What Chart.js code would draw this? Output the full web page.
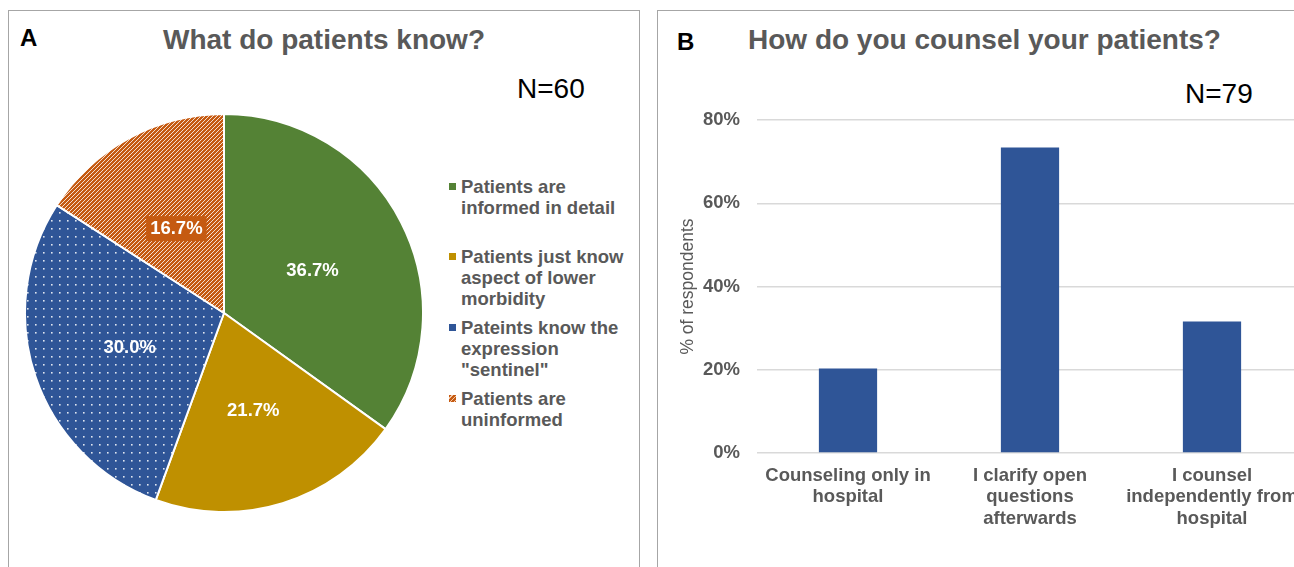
<!DOCTYPE html>
<html>
<head>
<meta charset="utf-8">
<script src="https://cdn.jsdelivr.net/npm/chart.js@4.4.1/dist/chart.umd.min.js"></script>
<style>
  html, body { margin: 0; padding: 0; background: #fff; overflow: hidden; width: 1294px; height: 567px; }
  body { position: relative; font-family: "Liberation Sans", Arial, sans-serif; }
  .panel { position: absolute; border: 1px solid #a6a6a6; background: #fff; box-sizing: border-box; }
  .txt { position: absolute; white-space: nowrap; line-height: 1; }
  .letter { font-weight: bold; font-size: 24px; color: #000; }
  .title { font-weight: bold; font-size: 28px; color: #595959; }
  .n { font-size: 28px; color: #000; }
  #legend { position: absolute; left: 447px; top: 0; }
  .item { position: absolute; left: 0; width: 190px; font-weight: bold; font-size: 18.5px; line-height: 21px; color: #595959; }
  .item .mk { position: absolute; left: 2px; top: 7px; width: 7px; height: 7px; }
  .item .lb { position: absolute; left: 14px; top: 0; white-space: nowrap; }
</style>
</head>
<body>
<div class="panel" style="left:8px; top:10px; width:632px; height:570px;"></div>
<div class="panel" style="left:657px; top:10px; width:700px; height:570px;"></div>

<div class="txt letter" style="left:20px; top:26px;">A</div>
<div class="txt title" style="left:163px; top:26px;">What do patients know?</div>
<div class="txt n" style="left:517px; top:75px;">N=60</div>

<div class="txt letter" style="left:677px; top:30px;">B</div>
<div class="txt title" style="left:748px; top:26px;">How do you counsel your patients?</div>
<div class="txt n" style="left:1185px; top:80px;">N=79</div>

<div id="legend"></div>

<canvas id="pieChart" width="400" height="400" style="position:absolute; left:24px; top:113px; width:400px; height:400px;"></canvas>
<canvas id="barChart" width="670" height="556" style="position:absolute; left:658px; top:11px; width:670px; height:556px;"></canvas>

<script>
// Panel A data
const pieLabels = [
  ['Patients are', 'informed in detail'],
  ['Patients just know', 'aspect of lower', 'morbidity'],
  ['Pateints know the', 'expression', '"sentinel"'],
  ['Patients are', 'uninformed']
];
const pieValues = [36.7, 21.7, 30.0, 16.7];

// Panel B data
const barCategories = [
  ['Counseling only in', 'hospital'],
  ['I clarify open', 'questions', 'afterwards'],
  ['I counsel', 'independently from', 'hospital']
];
const barValues = [20.3, 73.4, 31.6];
const yTicks = [0, 20, 40, 60, 80];

const green = '#548235';
const gold = '#BF9000';
const blue = '#2F5597';
const orange = '#C55A11';

function dotPattern(bg) {
  const c = document.createElement('canvas');
  c.width = 8; c.height = 8;
  const g = c.getContext('2d');
  g.fillStyle = bg; g.fillRect(0, 0, 8, 8);
  g.fillStyle = 'rgba(255,255,255,0.85)';
  g.fillRect(3, 3, 1.6, 1.6);
  return g.createPattern(c, 'repeat');
}

function stripePattern(bg) {
  const c = document.createElement('canvas');
  c.width = 4; c.height = 4;
  const g = c.getContext('2d');
  g.fillStyle = bg; g.fillRect(0, 0, 4, 4);
  g.strokeStyle = 'rgba(255,255,255,0.8)';
  g.lineWidth = 1;
  g.beginPath();
  g.moveTo(-1, 5); g.lineTo(5, -1);
  g.moveTo(-1, 1); g.lineTo(1, -1);
  g.moveTo(3, 5); g.lineTo(5, 3);
  g.stroke();
  return g.createPattern(c, 'repeat');
}

const pieFills = [green, gold, dotPattern(blue), stripePattern(orange)];
const legendMarks = [green, gold, blue, 'repeating-linear-gradient(135deg,' + orange + ' 0 2px,#f3c6a5 2px 3px)'];
const legendTops = [176, 246, 317, 388];

// legend (html)
const legend = document.getElementById('legend');
pieLabels.forEach((lines, i) => {
  const item = document.createElement('div');
  item.className = 'item';
  item.style.top = legendTops[i] + 'px';
  const mk = document.createElement('div');
  mk.className = 'mk';
  mk.style.background = legendMarks[i];
  const lb = document.createElement('div');
  lb.className = 'lb';
  lb.innerHTML = lines.map(s => s.replace(/&/g, '&amp;').replace(/</g, '&lt;')).join('<br>');
  item.appendChild(mk);
  item.appendChild(lb);
  legend.appendChild(item);
});

// labels inside the slices
const sliceLabels = {
  id: 'sliceLabels',
  afterDatasetsDraw(chart) {
    const ctx = chart.ctx;
    const meta = chart.getDatasetMeta(0);
    ctx.save();
    ctx.font = 'bold 18.5px "Liberation Sans", Arial, sans-serif';
    ctx.textAlign = 'center';
    ctx.textBaseline = 'middle';
    meta.data.forEach((arc, i) => {
      const p = arc.tooltipPosition();
      const x = p.x;
      const y = p.y + 3;
      const text = pieValues[i].toFixed(1) + '%';
      if (i === 3) {
        const w = ctx.measureText(text).width;
        ctx.fillStyle = orange;
        ctx.fillRect(x - w / 2 - 4, y - 12.5, w + 8, 25);
      }
      ctx.fillStyle = '#fff';
      ctx.fillText(text, x, y);
    });
    ctx.restore();
  }
};

new Chart(document.getElementById('pieChart'), {
  type: 'pie',
  data: {
    labels: pieLabels.map(l => l.join(' ')),
    datasets: [{
      data: pieValues,
      backgroundColor: pieFills,
      borderColor: '#fff',
      borderWidth: 2
    }]
  },
  options: {
    responsive: false,
    animation: false,
    layout: { padding: 0 },
    plugins: { legend: { display: false }, tooltip: { enabled: false } }
  },
  plugins: [sliceLabels]
});

new Chart(document.getElementById('barChart'), {
  type: 'bar',
  data: {
    labels: barCategories,
    datasets: [{
      data: barValues,
      backgroundColor: blue,
      categoryPercentage: 1,
      barPercentage: 0.32
    }]
  },
  options: {
    responsive: false,
    animation: false,
    layout: { padding: { top: 109, right: 25, bottom: 0, left: 0 } },
    plugins: { legend: { display: false }, tooltip: { enabled: false } },
    scales: {
      x: {
        grid: { display: false },
        border: { display: false },
        ticks: {
          color: '#595959',
          font: { family: '"Liberation Sans", Arial, sans-serif', size: 18.5, weight: 'bold', lineHeight: 1.16 },
          padding: 4,
          maxRotation: 0,
          autoSkip: false
        },
        afterFit(scale) { scale.height = 114; }
      },
      y: {
        min: 0,
        max: 80,
        afterBuildTicks(scale) { scale.ticks = yTicks.map(v => ({ value: v })); },
        grid: { color: '#d9d9d9', lineWidth: 1.5, drawTicks: false },
        border: { display: false },
        ticks: {
          color: '#595959',
          font: { family: '"Liberation Sans", Arial, sans-serif', size: 18.5, weight: 'bold' },
          padding: 17,
          callback: v => v + '%'
        },
        title: {
          display: true,
          text: '% of respondents',
          color: '#595959',
          font: { family: '"Liberation Sans", Arial, sans-serif', size: 17.5, lineHeight: 1.2 },
          padding: { top: 19.5, bottom: 0 }
        },
        afterFit(scale) { scale.width = 99; }
      }
    }
  }
});
</script>
</body>
</html>
